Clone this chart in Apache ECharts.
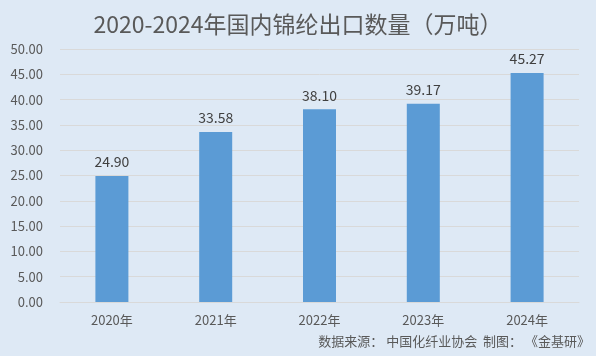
<!DOCTYPE html>
<html><head><meta charset="utf-8">
<script src="https://cdn.jsdelivr.net/npm/echarts@6/dist/echarts.min.js"></script>
<style>html,body{margin:0;padding:0;background:#dee9f5;}#c{width:596px;height:356px;}</style>
</head><body><div id="c"></div>
<script>
const categories = ['2020年','2021年','2022年','2023年','2024年'];
const values = [24.90, 33.58, 38.10, 39.17, 45.27];
const titleText = '2020-2024年国内锦纶出口数量（万吨）';
const sourceText = '数据来源： 中国化纤业协会  制图： 《金基研》';
const FONT = '"Noto Sans CJK SC","Noto Sans",sans-serif';
const chart = echarts.init(document.getElementById('c'));
chart.setOption({
  backgroundColor: '#dee9f5',
  animation: false,
  title: {
    text: titleText, left: 'center', top: 8,
    textStyle: {fontFamily: FONT, fontSize: 23, fontWeight: 'normal', color: '#595959'}
  },
  graphic: [{
    type: 'text', right: 6, top: 335,
    style: {text: sourceText, font: '13px ' + FONT, fill: '#595959'}
  }],
  grid: {left: 60, right: 17, top: 49, bottom: 54, containLabel: false},
  xAxis: {
    type: 'category', data: categories,
    axisLine: {lineStyle: {color: '#d9d9d9'}},
    axisTick: {show: false},
    axisLabel: {fontFamily: FONT, fontSize: 13, color: '#595959', margin: 12}
  },
  yAxis: {
    type: 'value', min: 0, max: 50, interval: 5,
    axisLine: {show: false}, axisTick: {show: false},
    splitLine: {lineStyle: {color: '#d9d9d9'}},
    axisLabel: {fontFamily: FONT, fontSize: 13, color: '#595959', margin: 17,
      formatter: v => v.toFixed(2)}
  },
  series: [{
    type: 'bar', data: values, barWidth: 33,
    itemStyle: {color: '#5b9bd5'},
    label: {show: true, position: 'top', distance: 7, fontFamily: FONT, fontSize: 14, color: '#404040',
      formatter: p => p.value.toFixed(2)}
  }]
});
</script></body></html>
